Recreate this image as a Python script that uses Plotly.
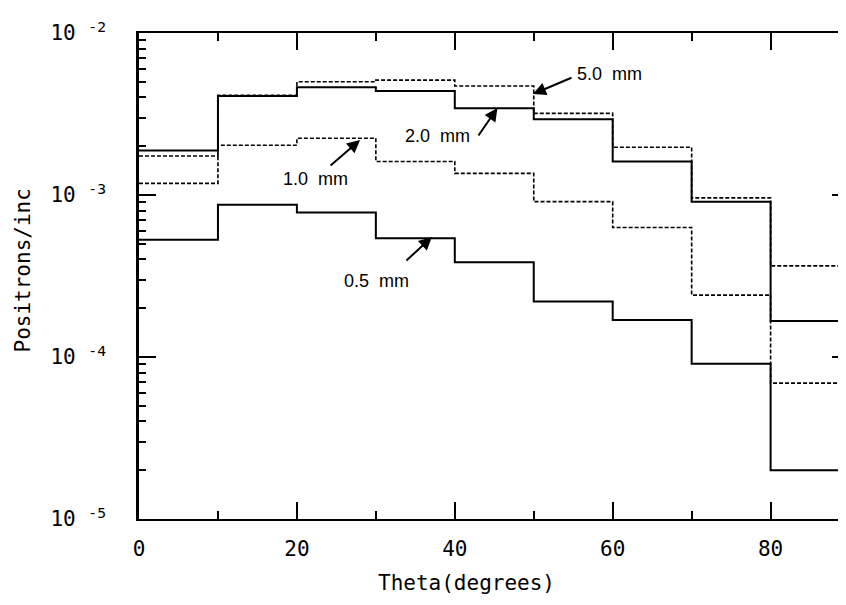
import plotly.graph_objects as go

# Bin edges (degrees)
theta_edges = [0, 10, 20, 30, 40, 50, 60, 70, 80, 90]

# Positrons/inc per angular bin, per target thickness
pos_05mm = [5.3e-4, 8.7e-4, 7.8e-4, 5.4e-4, 3.85e-4, 2.2e-4, 1.69e-4, 9.1e-5, 2.0e-5]
pos_10mm = [1.18e-3, 2.03e-3, 2.24e-3, 1.61e-3, 1.36e-3, 9.1e-4, 6.3e-4, 2.41e-4, 6.9e-5]
pos_20mm = [1.88e-3, 4.08e-3, 4.63e-3, 4.38e-3, 3.43e-3, 2.94e-3, 1.61e-3, 9.1e-4, 1.67e-4]
pos_50mm = [1.74e-3, 4.12e-3, 5.0e-3, 5.12e-3, 4.71e-3, 3.19e-3, 1.97e-3, 9.6e-4, 3.65e-4]

labels = ["0.5 mm", "1.0 mm", "2.0 mm", "5.0 mm"]

y_ticks = [1e-5, 1e-4, 1e-3, 1e-2]
y_ticktext = ["10 <sup>-5</sup>", "10 <sup>-4</sup>", "10 <sup>-3</sup>", "10 <sup>-2</sup>"]
x_ticks = [0, 20, 40, 60, 80]
x_minor = [10, 30, 50, 70]

y_minor = [k * 10.0 ** e for e in (-5, -4, -3) for k in range(2, 10)]

series = [
    (pos_05mm, "solid", 2.0),
    (pos_10mm, "4px,2px", 1.6),
    (pos_20mm, "solid", 2.0),
    (pos_50mm, "4px,2px", 1.6),
]

fig = go.Figure()
for (vals, dash, w), name in zip(series, labels):
    fig.add_trace(go.Scatter(
        x=theta_edges, y=list(vals) + [vals[-1]],
        mode="lines", line=dict(shape="hv", color="black", width=w, dash=dash),
        name=name, showlegend=False, hoverinfo="skip",
    ))

# invisible trace for right-hand tick axis
fig.add_trace(go.Scatter(x=[0], y=[1e-3], yaxis="y2", mode="markers",
                         marker=dict(opacity=0), showlegend=False, hoverinfo="skip"))

tick_font = dict(family="DejaVu Sans Mono", size=21, color="black")

fig.update_layout(
    width=838, height=597,
    margin=dict(l=131, r=0, t=25, b=86),
    paper_bgcolor="white", plot_bgcolor="white",
    xaxis=dict(
        range=[0, 89.55], showgrid=False, zeroline=False,
        showline=True, linecolor="black", linewidth=2, mirror="ticks",
        tickmode="array", tickvals=x_ticks, ticktext=[str(v) for v in x_ticks],
        ticks="inside", ticklen=17, tickwidth=1.5, tickcolor="black",
        minor=dict(tickmode="array", tickvals=x_minor, ticks="inside", ticklen=8,
                   tickwidth=1.5, tickcolor="black", showgrid=False),
        tickfont=tick_font, ticklabelstandoff=10,
    ),
    yaxis=dict(
        type="log", range=[-5, -2], showgrid=False, zeroline=False,
        showline=True, linecolor="black", linewidth=2.5, mirror=False,
        tickmode="array", tickvals=y_ticks, ticktext=y_ticktext,
        ticks="inside", ticklen=17, tickwidth=2, tickcolor="black",
        minor=dict(tickmode="array", tickvals=y_minor, ticks="inside", ticklen=7,
                   tickwidth=2, tickcolor="black", showgrid=False),
        tickfont=tick_font, ticklabelstandoff=26,
    ),
    yaxis2=dict(
        type="log", range=[-5, -2], overlaying="y", side="right",
        showgrid=False, zeroline=False, showline=False, showticklabels=False,
        tickmode="array", tickvals=y_ticks,
        ticks="inside", ticklen=14, tickwidth=2, tickcolor="black",
        minor=dict(tickmode="array", tickvals=y_minor, ticks="inside", ticklen=8,
                   tickwidth=2, tickcolor="black", showgrid=False),
    ),
)

title_font = dict(family="DejaVu Sans Mono", size=21, color="black")
fig.add_annotation(text="Theta(degrees)", xref="paper", yref="paper",
                   x=0.463, y=-0.1317, xanchor="center", yanchor="middle",
                   showarrow=False, font=title_font)
fig.add_annotation(text="Positrons/inc", xref="paper", yref="paper",
                   x=-0.1636, y=0.512, xanchor="center", yanchor="middle",
                   textangle=-90, showarrow=False, font=title_font)

# label arrows (tip in data coords, tail offset in px) and label texts
arrow_tips = [(37.1, -3.259, -27, 25), (28.0, -2.66, -31, 27),
              (45.4, -2.463, -20, 29), (49.9, -2.377, 40, -17)]
text_pos = [(30.1, -3.531), (22.3, -2.901), (37.8, -2.636), (59.6, -2.253)]
lab_font = dict(family="Liberation Sans", size=18, color="black")
for (tx, ty, ax, ay), (lx, ly), lab in zip(arrow_tips, text_pos, labels):
    fig.add_annotation(x=tx, y=ty, xref="x", yref="y", ax=ax, ay=ay, text="",
                       showarrow=True, arrowhead=2, arrowsize=1.3, arrowwidth=2,
                       arrowcolor="black")
    fig.add_annotation(x=lx, y=ly, xref="x", yref="y", text=lab.replace(" ", "&nbsp;&nbsp;"),
                       showarrow=False, font=lab_font, xanchor="center", yanchor="middle")

fig.write_html("out.html")
